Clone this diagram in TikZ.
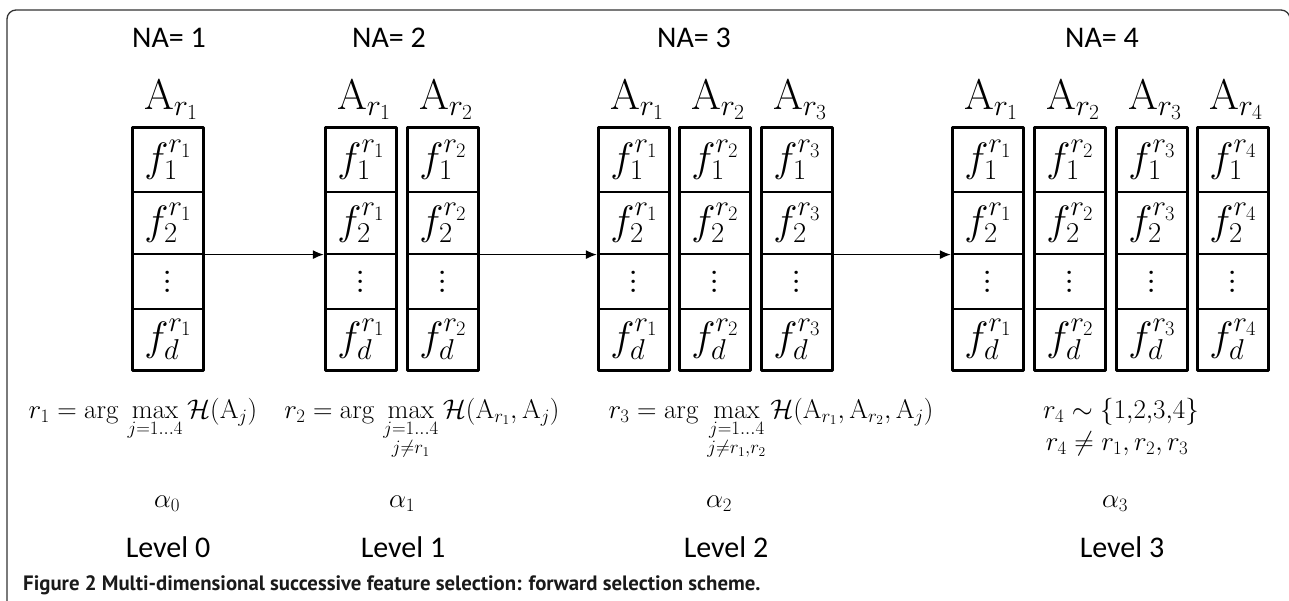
\RequirePackage{fix-cm}
\documentclass[tikz,border=0pt]{standalone}
\usepackage{amsmath}
\usepackage{fontspec}
\newfontfamily\carl{Carlito}
\newfontfamily\capf{PT Sans}
\usetikzlibrary{arrows.meta}
\definecolor{ink}{HTML}{1A1A1A}
\definecolor{framec}{HTML}{333333}
\newcommand\colvdots{\vbox{\baselineskip=9pt\lineskiplimit=-20pt\hbox{.}\hbox{.}\hbox{.}}}
\tikzset{
  cell/.style={draw, line width=1.2pt, minimum width=70pt, inner sep=0pt, font=\fontsize{41}{44}\selectfont},
  outerbox/.style={line width=3.4pt, line join=round},
  hdr/.style={font=\carl\fontsize{30}{34}\selectfont, anchor=base, inner sep=0pt},
  alab/.style={font=\fontsize{43}{46}\selectfont, anchor=base, inner sep=0pt},
  frm/.style={font=\fontsize{27}{30}\selectfont, anchor=base, inner sep=0pt},
  conn/.style={line width=1.3pt, -{Latex[length=11pt,width=9pt]}, shorten >=1.6pt},
}
\newcommand\featcol[3]{%
  \node[cell, minimum height=64pt] (#1-1) at (#2,160) {$f_1^{#3}$};
  \node[cell, minimum height=62pt] (#1-2) at (#2,223) {$f_2^{#3}$};
  \node[cell, minimum height=55pt] (#1-3) at (#2,281.5) {\colvdots};
  \node[cell, minimum height=61pt] (#1-4) at (#2,339.5) {$f_d^{#3}$};
  \draw[outerbox] (#1-1.north west) rectangle (#1-4.south east);
  \node[alab] (#1-A) at (#2+3,109) {$\mathrm{A}_{#3}$};
}
\begin{document}
\begin{tikzpicture}[x=1pt, y=-1pt]
\useasboundingbox (0,0) rectangle (1289,600);
% frame
\draw[framec, line width=1.3pt, rounded corners=9pt] (7,605) -- (7,10) -- (1290,10) -- (1290,605);
% headers
\node[hdr] (na1) at (169,47) {NA= 1};
\node[hdr] (na2) at (389,47) {NA= 2};
\node[hdr] (na3) at (694,47) {NA= 3};
\node[hdr] (na4) at (1102,47) {NA= 4};
% columns
\featcol{c0}{168}{r_1}
\featcol{c1a}{361}{r_1}
\featcol{c1b}{443}{r_2}
\featcol{c2a}{634}{r_1}
\featcol{c2b}{715}{r_2}
\featcol{c2c}{797}{r_3}
\featcol{c3a}{988}{r_1}
\featcol{c3b}{1070}{r_2}
\featcol{c3c}{1152}{r_3}
\featcol{c3d}{1233}{r_4}
% connectors
\draw[conn] (c0-2.south east) -- (c1a-2.south west);
\draw[conn] (c1b-2.south east) -- (c2a-2.south west);
\draw[conn] (c2c-2.south east) -- (c3a-2.south west);
% formulas
\node[frm] (eq0) at (143,418) {$r_1 = \arg\,\max\limits_{j=1\dots4} \mathcal{H}(\mathrm{A}_j)$};
\node[frm] (eq1) at (422,418) {$r_2 = \arg\,\max\limits_{\substack{j=1\dots4\\ j\neq r_1}} \mathcal{H}(\mathrm{A}_{r_1},\mathrm{A}_j)$};
\node[frm] (eq2) at (771,418) {$r_3 = \arg\,\max\limits_{\substack{j=1\dots4\\ j\neq r_1,r_2}} \mathcal{H}(\mathrm{A}_{r_1},\mathrm{A}_{r_2},\mathrm{A}_j)$};
\node[frm] (eq3a) at (1121,418) {$r_4 \sim \{1{,}2{,}3{,}4\}$};
\node[frm] (eq3b) at (1117,450) {$r_4 \neq r_1, r_2, r_3$};
% alphas
\node[frm] (al0) at (167,507) {$\alpha_0$};
\node[frm] (al1) at (402,507) {$\alpha_1$};
\node[frm] (al2) at (719,507) {$\alpha_2$};
\node[frm] (al3) at (1115,507) {$\alpha_3$};
% levels
\node[hdr] (lv0) at (168,557) {Level 0};
\node[hdr] (lv1) at (403,557) {Level 1};
\node[hdr] (lv2) at (726,557) {Level 2};
\node[hdr] (lv3) at (1122,557) {Level 3};
% caption
\node[anchor=base west, inner sep=0pt, text=ink, font=\capf\bfseries\fontsize{20.8}{24}\selectfont] (cap) at (23,590) {Figure 2 Multi-dimensional successive feature selection: forward selection scheme.};
\end{tikzpicture}
\end{document}
